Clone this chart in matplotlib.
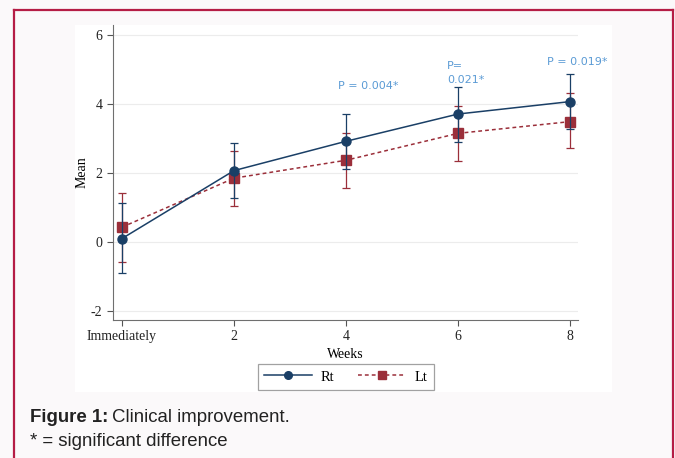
import matplotlib.pyplot as plt
from matplotlib.patches import Rectangle
from matplotlib.lines import Line2D

plt.rcParams["axes.unicode_minus"] = False

weeks = [0, 2, 4, 6, 8]
tickLabels = ["Immediately", "2", "4", "6", "8"]

rtMean = [0.10, 2.07, 2.92, 3.71, 4.07]
rtLow = [-0.89, 1.28, 2.13, 2.91, 3.27]
rtHigh = [1.12, 2.86, 3.70, 4.50, 4.87]

ltMean = [0.43, 1.85, 2.37, 3.15, 3.49]
ltLow = [-0.58, 1.05, 1.56, 2.36, 2.72]
ltHigh = [1.43, 2.65, 3.15, 3.94, 4.31]

pTexts = ["P = 0.004*", "P=\n0.021*", "P = 0.019*"]
pX = [4.40, 5.80, 8.13]
pY = [4.52, 4.90, 5.22]

rtColor = "#1a3f66"
ltColor = "#9b2f3a"
pColor = "#5b9bd5"
serif = "Liberation Serif"

fig = plt.figure(figsize=(6.75, 4.58), dpi=100)
fig.patch.set_facecolor("#fbf9fa")

# white chart panel and the maroon frame
fig.patches.append(Rectangle((75/675, 1-392/458), (612-75)/675, (392-25)/458,
                             transform=fig.transFigure, facecolor="white",
                             edgecolor="none", zorder=-10))
frameColor = "#b51d45"
fig.add_artist(Line2D([14/675, 14/675], [0, 1-10/458], color=frameColor, lw=1.6, transform=fig.transFigure))
fig.add_artist(Line2D([673/675, 673/675], [0, 1-10/458], color=frameColor, lw=1.6, transform=fig.transFigure))
fig.add_artist(Line2D([14/675, 673/675], [1-10/458, 1-10/458], color=frameColor, lw=1.6, transform=fig.transFigure))

ax = fig.add_axes([113/675, 1-320/458, (578-113)/675, (320-25)/458])
ax.set_facecolor("white")

rtErr = [[m - l for m, l in zip(rtMean, rtLow)], [h - m for m, h in zip(rtMean, rtHigh)]]
ltErr = [[m - l for m, l in zip(ltMean, ltLow)], [h - m for m, h in zip(ltMean, ltHigh)]]

ax.errorbar(weeks, ltMean, yerr=ltErr, color=ltColor, ls=(0, (2.5, 2)), lw=1.1,
            marker="s", ms=6.5, capsize=3, elinewidth=0.9, capthick=0.9, label="Lt", zorder=3)
ax.errorbar(weeks, rtMean, yerr=rtErr, color=rtColor, ls="-", lw=1.1,
            marker="o", ms=6.5, capsize=3, elinewidth=0.9, capthick=0.9, label="Rt", zorder=4)

for t, x, y in zip(pTexts, pX, pY):
    ha = "left" if "\n" in t else "center"
    ax.text(x, y, t, color=pColor, fontsize=8, ha=ha, va="center",
            family="DejaVu Sans", linespacing=1.6)

ax.set_xlim(-0.16, 8.14)
ax.set_ylim(-2.26, 6.29)
ax.set_xticks(weeks)
ax.set_xticklabels(tickLabels)
ax.set_yticks([-2, 0, 2, 4, 6])
ax.grid(axis="y", color="#ececec", lw=0.8)
ax.set_axisbelow(True)
for s in ["top", "right"]:
    ax.spines[s].set_visible(False)
for s in ["left", "bottom"]:
    ax.spines[s].set_color("#6f6f6f")
ax.tick_params(colors="#555555", length=4, width=0.8, labelcolor="#222222")
for lbl in ax.get_xticklabels() + ax.get_yticklabels():
    lbl.set_family(serif)
    lbl.set_fontsize(10)
ax.set_xlabel("Weeks", family=serif, fontsize=10, labelpad=3)
ax.set_ylabel("Mean", family=serif, fontsize=10, labelpad=2)

handles = [Line2D([], [], color=rtColor, lw=1.1, marker="o", ms=5.5),
           Line2D([], [], color=ltColor, lw=1.1, ls=(0, (2.5, 2)), marker="s", ms=5.5)]
leg = fig.legend(handles, ["Rt", "Lt"], loc="center", bbox_to_anchor=(346/675, 1-377/458),
                 ncol=2, frameon=True, fancybox=False, edgecolor="#8a8a8a",
                 prop={"family": serif, "size": 10.5}, handlelength=3.3,
                 columnspacing=1.6, handletextpad=0.6, borderpad=0.45)
leg.get_frame().set_linewidth(0.9)

bold = fig.text(30/675, 1-417/458, "Figure 1:", fontsize=13.4, weight="bold",
                family="Liberation Sans", va="center", color="#222222")
fig.canvas.draw()
bb = bold.get_window_extent().transformed(fig.transFigure.inverted())
fig.text(bb.x1 + 4/675, 1-417/458, "Clinical improvement.", fontsize=13.4,
         family="Liberation Sans", va="center", color="#222222")
fig.text(30/675, 1-442/458, "* = significant difference", fontsize=13.4,
         family="Liberation Sans", va="center", color="#222222")

fig.savefig("out.png", dpi=100, facecolor=fig.get_facecolor())
